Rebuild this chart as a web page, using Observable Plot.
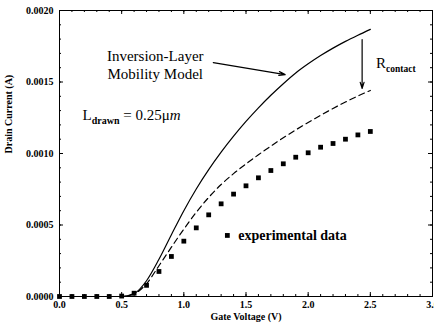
<!DOCTYPE html>
<html><head><meta charset="utf-8">
<script src="https://cdn.jsdelivr.net/npm/d3@7"></script>
<script src="https://cdn.jsdelivr.net/npm/@observablehq/plot@0.6"></script>
<style>body{margin:0;background:#fff}</style>
</head><body><div id="chart"></div>
<script>
// Gate voltage samples (V)
const gateV = [0,0.1,0.2,0.3,0.4,0.5,0.6,0.7,0.8,0.9,1.0,1.1,1.2,1.3,1.4,1.5,1.6,1.7,1.8,1.9,2.0,2.1,2.2,2.3,2.4,2.5];
// Inversion-layer mobility model (solid)
const modelI = [0,0,0,0,0,0,0.00002,0.00011,0.00026,0.000432,0.0006,0.000752,0.000887,0.001009,0.001121,0.001224,0.001319,0.001407,0.001488,0.001563,0.001627,0.001685,0.001737,0.001784,0.001827,0.001868];
// Model with contact resistance (dashed)
const contactI = [0,0,0,0,0,0,0.000018,0.00009,0.000215,0.000345,0.000471,0.000589,0.000693,0.000783,0.000859,0.000927,0.000991,0.001052,0.00111,0.001165,0.001217,0.001267,0.001315,0.00136,0.001402,0.001441];
// Experimental data (squares)
const expI = [0,0,0,0,0,0.000003,0.000023,0.000078,0.000175,0.00028,0.000387,0.00048,0.000571,0.000648,0.000716,0.000774,0.00083,0.000881,0.000928,0.000974,0.001005,0.001044,0.00107,0.0011,0.00113,0.001154];

const xTicks = [0,0.5,1.0,1.5,2.0,2.5,3.0];
const yTicks = [0,0.0005,0.0010,0.0015,0.0020];
const xMinor = d3.range(0,31).map(i => i/10);
const yMinor = d3.range(0,21).map(i => i/10000);

const solid = gateV.map((v,i) => ({v, I: modelI[i]}));
const dashed = gateV.map((v,i) => ({v, I: contactI[i]}));
const exp = gateV.map((v,i) => ({v, I: expI[i]}));

const serif = "Liberation Serif, Times New Roman, serif";
const W = 434, H = 327, mT = 10, mR = 2, mB = 31, mL = 59;
const fw = W - mL - mR, fh = H - mT - mB;

const chart = Plot.plot({
  width: W, height: H,
  marginTop: mT, marginRight: mR, marginBottom: mB, marginLeft: mL,
  style: {fontFamily: serif, fontSize: "10px", background: "white", color: "black"},
  x: {domain: [0,3]},
  y: {domain: [0,0.002]},
  marks: [
    // inward ticks on all four sides
    Plot.ruleX(xTicks, {insetTop: fh - 4, stroke: "black"}),
    Plot.ruleX(xMinor, {insetTop: fh - 2, stroke: "black"}),
    Plot.ruleX(xTicks, {insetBottom: fh - 4, stroke: "black"}),
    Plot.ruleX(xMinor, {insetBottom: fh - 2, stroke: "black"}),
    Plot.ruleY(yTicks, {insetRight: fw - 4, stroke: "black"}),
    Plot.ruleY(yMinor, {insetRight: fw - 2, stroke: "black"}),
    Plot.ruleY(yTicks, {insetLeft: fw - 4, stroke: "black"}),
    Plot.ruleY(yMinor, {insetLeft: fw - 2, stroke: "black"}),
    Plot.frame({stroke: "black", strokeWidth: 1}),
    // tick labels
    Plot.axisX({ticks: xTicks, tickSize: 0, tickPadding: 4, tickFormat: d3.format(".1f"), fontWeight: "bold", label: null}),
    Plot.axisY({ticks: yTicks, tickSize: 0, tickPadding: 6, tickFormat: d3.format(".4f"), fontWeight: "bold", label: null}),
    Plot.text(["Gate Voltage (V)"], {frameAnchor: "bottom", dy: 23, fontWeight: "bold", fontSize: 10}),
    Plot.text(["Drain Current (A)"], {frameAnchor: "left", dx: -51, rotate: -90, fontWeight: "bold", fontSize: 10}),
    // data
    Plot.line(solid, {x: "v", y: "I", stroke: "black", strokeWidth: 1.2, curve: "monotone-x"}),
    Plot.line(dashed, {x: "v", y: "I", stroke: "black", strokeWidth: 1.2, strokeDasharray: "6,4", curve: "monotone-x"}),
    Plot.dot(exp, {x: "v", y: "I", symbol: "square", r: 2.7, fill: "black", stroke: null}),
    // annotations
    Plot.text(["Inversion-Layer\nMobility Model"], {x: [0.77], y: [0.001622], fontSize: 15, lineHeight: 1.2, textAnchor: "middle"}),
    Plot.text(["LDRAWN"], {x: [0.185], y: [0.001266], fontSize: 15, textAnchor: "start"}),
    Plot.text(["RCONTACT"], {x: [2.546], y: [0.00163], fontSize: 15, textAnchor: "start"}),
    Plot.arrow([0], {x1: [1.237], y1: [0.001636], x2: [1.815], y2: [0.001552], stroke: "black", strokeWidth: 1.2, headLength: 8, headAngle: 35}),
    Plot.arrow([0], {x1: [2.434], y1: [0.001797], x2: [2.434], y2: [0.001455], stroke: "black", strokeWidth: 1.2, headLength: 8, headAngle: 35}),
    Plot.dot([0], {x: [1.35], y: [0.000427], symbol: "square", r: 2.7, fill: "black", stroke: null}),
    Plot.text(["experimental data"], {x: [1.438], y: [0.000427], fontSize: 14, fontWeight: "bold", textAnchor: "start"})
  ]
});

// rich text: subscripts
d3.select(chart).selectAll("text").each(function() {
  const t = d3.select(this);
  const s = this.textContent;
  if (s === "LDRAWN") {
    t.text(null);
    t.append("tspan").text("L");
    t.append("tspan").attr("font-size", 10).attr("font-weight", "bold").attr("dy", 4).text("drawn");
    t.append("tspan").attr("dy", -4).text(" = 0.25\u03bc");
    t.append("tspan").attr("font-style", "italic").text("m");
  } else if (s === "RCONTACT") {
    t.text(null);
    t.append("tspan").text("R");
    t.append("tspan").attr("font-size", 9.5).attr("font-weight", "bold").attr("dy", 4).text("contact");
  }
});
document.getElementById("chart").appendChild(chart);
</script>
</body></html>
